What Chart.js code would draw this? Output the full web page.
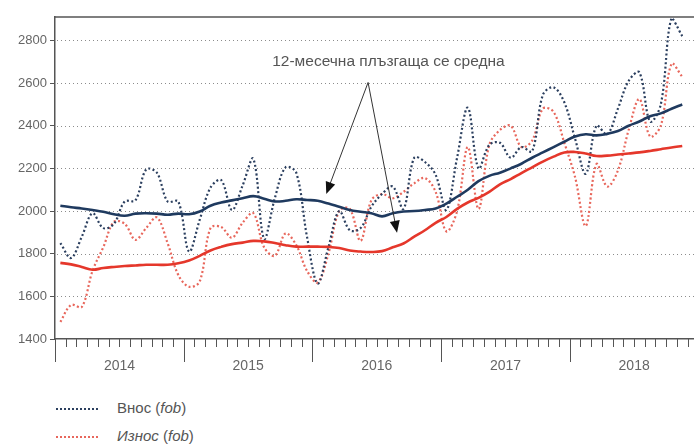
<!DOCTYPE html>
<html>
<head>
<meta charset="utf-8">
<script src="https://cdn.jsdelivr.net/npm/chart.js@4/dist/chart.umd.min.js"></script>
<style>
    body { margin: 0; background: #fff; overflow: hidden; }
    .wrap { position: relative; width: 694px; height: 447px; overflow: hidden; font-family: 'Liberation Sans', Arial, sans-serif; }
    canvas { position: absolute; left: 0; top: 0; }
    .legend { position: absolute; left: 56px; color: #555; font-size: 15px; }
    .legend span.mark { display: inline-block; width: 42px; vertical-align: middle; margin-right: 19px; border-top: 2.5px dotted; }
    .legend i { font-style: italic; }
</style>
</head>
<body>
<div class="wrap">
    <canvas id="chart" width="712" height="380"></canvas>
    <div class="legend" style="top: 399px;"><span class="mark" style="border-color: #2b3f5f;"></span>Внос (<i>fob</i>)</div>
    <div class="legend" style="top: 427px;"><span class="mark" style="border-color: #e8675c;"></span><i>Износ</i> (<i>fob</i>)</div>
</div>
<script>
const years = ['2014', '2015', '2016', '2017', '2018'];
const monthNames = ['01', '02', '03', '04', '05', '06', '07', '08', '09', '10', '11', '12'];

// monthly values, Jan 2014 - Nov 2018
const imports = [
    1850, 1780, 1880, 1990, 1920, 1940, 2045, 2050, 2195, 2180, 2045, 2045,
    1810, 1960, 2110, 2145, 2005, 2120, 2245, 1870, 2060, 2205, 2180, 1880,
    1660, 1830, 2000, 1910, 1920, 2020, 2080, 2115, 2010, 2250, 2230, 2170,
    2005, 2250, 2485, 2200, 2310, 2320, 2250, 2300, 2280, 2545, 2580, 2510,
    2340, 2175, 2400, 2360, 2480, 2610, 2650, 2420, 2500, 2905, 2820,
];
const exports = [
    1480, 1560, 1550, 1720, 1830, 1950, 1940, 1865, 1920, 1970, 1850, 1700,
    1645, 1670, 1920, 1925, 1875, 1945, 1990, 1830, 1790, 1895, 1840, 1720,
    1665, 1800, 2000, 2010, 1860, 2050, 2080, 2060, 2090, 2130, 2155, 2090,
    1905, 2000, 2300, 2010, 2310, 2380, 2400, 2300, 2330, 2480, 2465, 2320,
    2160, 1930, 2220, 2115, 2190, 2380, 2525, 2350, 2400, 2690, 2630,
];
// 12-month moving averages
const importsAvg = [
    2025, 2018, 2012, 2005, 1997, 1985, 1978, 1988, 1990, 1988, 1983, 1988,
    1985, 1998, 2025, 2040, 2050, 2060, 2070, 2058, 2045, 2048, 2055, 2052,
    2048, 2035, 2020, 2005, 1997, 1990, 1975, 1990, 1998, 2000, 2005, 2012,
    2035, 2067, 2100, 2140, 2165, 2180, 2200, 2222, 2250, 2275, 2300, 2325,
    2350, 2360, 2355, 2362, 2375, 2400, 2420, 2445, 2458, 2480, 2500,
];
const exportsAvg = [
    1757, 1750, 1738, 1725, 1733, 1738, 1742, 1745, 1748, 1748, 1748, 1755,
    1768, 1790, 1815, 1832, 1845, 1852, 1860, 1858, 1850, 1840, 1833, 1833,
    1833, 1832, 1827, 1815, 1810, 1808, 1812, 1830, 1848, 1880, 1910, 1945,
    1972, 2010, 2040, 2062, 2090, 2125, 2150, 2178, 2205, 2232, 2255, 2275,
    2277, 2270, 2258, 2260, 2265, 2270, 2275, 2282, 2290, 2298, 2305,
];
const yTicks = [1400, 1600, 1800, 2000, 2200, 2400, 2600, 2800];

// annotation, in [month index, value]
const noteText = '12-месечна плъзгаща се средна';
const notePos = [30.6, 2700];
const arrowFrom = [28.7, 2603];
const arrowTips = [[24.8, 2080], [31.4, 1898]];

const months = [];
years.forEach((yr) => monthNames.forEach((m) => months.push(`${m}.${yr}`)));

const navy = '#1f3a5f';
const red = '#e5372b';
const font = '"Liberation Sans", Arial, sans-serif';

const drawArrow = (ctx, x0, y0, x1, y1) => {
    const ang = Math.atan2(y1 - y0, x1 - x0);
    const c = Math.cos(ang);
    const s = Math.sin(ang);
    ctx.beginPath();
    ctx.moveTo(x0, y0);
    ctx.lineTo(x1 - 9 * c, y1 - 9 * s);
    ctx.stroke();
    ctx.beginPath();
    ctx.moveTo(x1, y1);
    ctx.lineTo(x1 - 12 * c + 5 * s, y1 - 12 * s - 5 * c);
    ctx.lineTo(x1 - 12 * c - 5 * s, y1 - 12 * s + 5 * c);
    ctx.closePath();
    ctx.fill();
};

const decor = {
    id: 'decor',
    beforeDatasetsDraw(chart) {
        // dotted horizontal grid
        const { ctx, chartArea: a, scales: { y } } = chart;
        ctx.save();
        ctx.strokeStyle = '#8c8c8c';
        ctx.lineWidth = 1;
        ctx.setLineDash([1, 3]);
        ctx.beginPath();
        yTicks.slice(1).forEach((v) => {
            const py = Math.round(y.getPixelForValue(v)) + 0.5;
            ctx.moveTo(a.left + 2, py);
            ctx.lineTo(a.right, py);
        });
        ctx.stroke();
        ctx.restore();
    },
    afterDraw(chart) {
        const { ctx, chartArea: a, scales: { x, y } } = chart;
        ctx.save();
        ctx.strokeStyle = '#555';
        ctx.lineWidth = 1.5;
        ctx.beginPath();
        ctx.moveTo(a.left, a.top);
        ctx.lineTo(a.right, a.top);
        ctx.stroke();

        ctx.lineWidth = 1;
        ctx.beginPath();
        for (let i = 0; i <= months.length; i++) {
            const px = Math.round(x.getPixelForValue(i - 0.5)) + 0.5;
            const len = i % 12 === 0 ? 23 : 8;
            ctx.moveTo(px, a.bottom);
            ctx.lineTo(px, a.bottom + len);
        }
        ctx.stroke();

        ctx.fillStyle = '#555';
        ctx.font = `15.5px ${font}`;
        ctx.textAlign = 'center';
        ctx.textBaseline = 'middle';
        ctx.fillText(noteText, x.getPixelForValue(notePos[0]), y.getPixelForValue(notePos[1]));

        ctx.strokeStyle = '#333';
        ctx.fillStyle = '#111';
        const x0 = x.getPixelForValue(arrowFrom[0]);
        const y0 = y.getPixelForValue(arrowFrom[1]);
        arrowTips.forEach(([mi, v]) => drawArrow(ctx, x0, y0, x.getPixelForValue(mi), y.getPixelForValue(v)));
        ctx.restore();
    },
};

const dotted = (data, color, order) => ({
    data,
    borderColor: color,
    borderWidth: 2.2,
    borderDash: [2, 2.4],
    tension: 0.35,
    pointRadius: 0,
    fill: false,
    order,
});
const solid = (data, color, order) => ({
    data,
    borderColor: color,
    borderWidth: 2.6,
    tension: 0.4,
    pointRadius: 0,
    fill: false,
    order,
});

new Chart(document.getElementById('chart'), {
    type: 'line',
    data: {
        labels: months,
        datasets: [
            dotted(imports, '#2b3f5f', 3),
            dotted(exports, '#e8675c', 4),
            solid(importsAvg, navy, 1),
            solid(exportsAvg, red, 2),
        ],
    },
    options: {
        responsive: false,
        animation: false,
        layout: { padding: { top: 17, right: 3, left: 0, bottom: 0 } },
        plugins: { legend: { display: false }, tooltip: { enabled: false } },
        scales: {
            x: {
                offset: true,
                grid: { display: false, drawTicks: false },
                border: { display: true, color: '#555', width: 1.5 },
                ticks: {
                    autoSkip: false,
                    maxRotation: 0,
                    padding: 19,
                    labelOffset: 5.5,
                    color: '#666',
                    font: { size: 14, family: font },
                    callback: (v, i) => (i % 12 === 5 ? years[Math.floor(i / 12)] : ''),
                },
                afterFit: (axis) => { axis.height = 41; },
            },
            y: {
                min: 1400,
                max: 2910,
                afterBuildTicks: (axis) => { axis.ticks = yTicks.map((value) => ({ value })); },
                grid: { drawOnChartArea: false, tickLength: 5, tickColor: '#555' },
                border: { display: true, color: '#555', width: 1.5 },
                ticks: {
                    padding: 3,
                    color: '#666',
                    font: { size: 13, family: font },
                    callback: (v) => String(v),
                },
                afterFit: (axis) => { axis.width = 55; },
            },
        },
    },
    plugins: [decor],
});
</script>
</body>
</html>
